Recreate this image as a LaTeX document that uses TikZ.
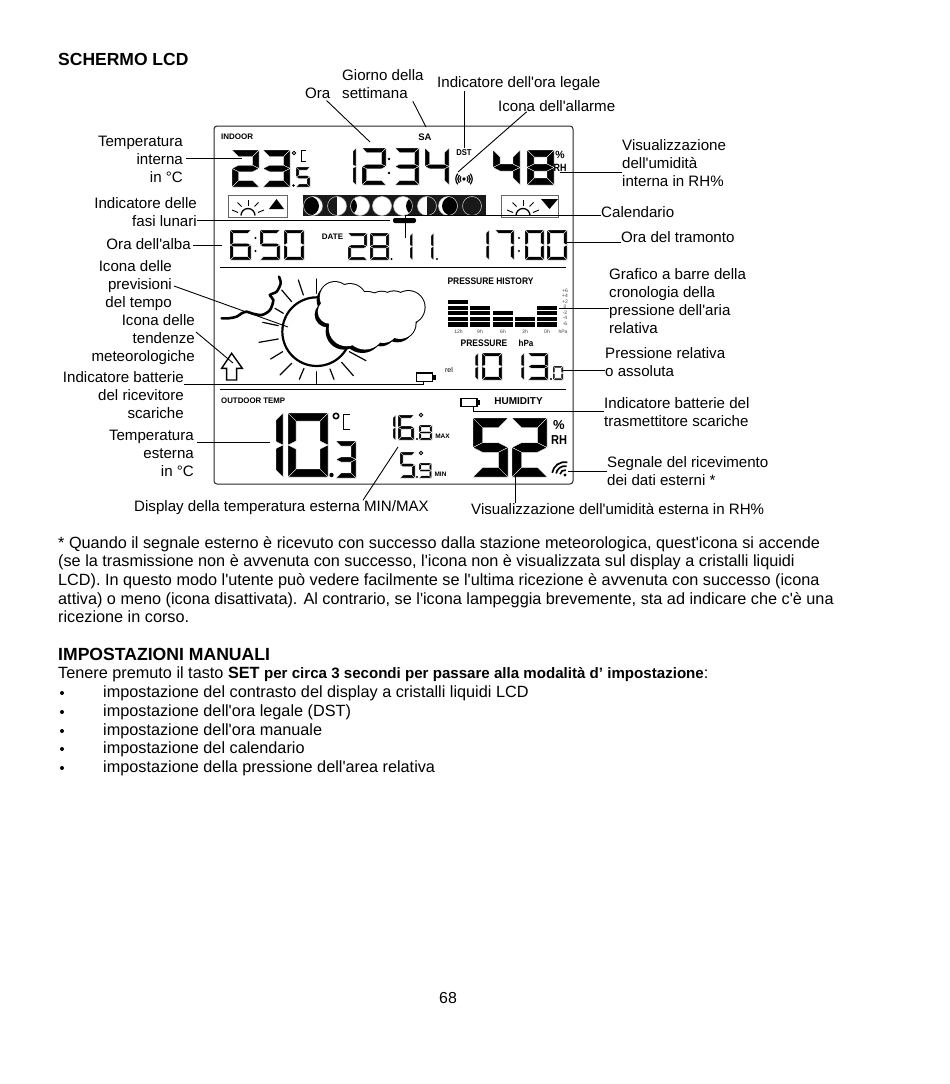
\documentclass[tikz,border=0pt]{standalone}
\usepackage{fontspec}
\setmainfont{Liberation Sans}
\newfontfamily\plainrm{Liberation Sans}
\AtBeginDocument{\plainrm}
\newcommand\segA{\fill[segpart] (\xa,\ya)--(\xd,\ya)--(\xc,\yb)--(\xb,\yb)--cycle;}
\newcommand\segB{\fill[segpart] (\xd,\ya)--(\xd,\ym)--(\xc,\yc)--(\xc,\yb)--cycle;}
\newcommand\segC{\fill[segpart] (\xd,\ym)--(\xd,\yf)--(\xc,\ye)--(\xc,\yd)--cycle;}
\newcommand\segD{\fill[segpart] (\xa,\yf)--(\xb,\ye)--(\xc,\ye)--(\xd,\yf)--cycle;}
\newcommand\segE{\fill[segpart] (\xa,\ym)--(\xb,\yd)--(\xb,\ye)--(\xa,\yf)--cycle;}
\newcommand\segF{\fill[segpart] (\xa,\ya)--(\xb,\yb)--(\xb,\yc)--(\xa,\ym)--cycle;}
\newcommand\segG{\fill[segpart] (\xa,\ym)--(\xb,\yc)--(\xc,\yc)--(\xd,\ym)--(\xc,\yd)--(\xb,\yd)--cycle;}
% digit, x, y, w, h, t
\newcommand\dg[6]{\begingroup
 \pgfmathsetmacro\xa{#2}\pgfmathsetmacro\xb{#2+#6}\pgfmathsetmacro\xc{#2+#4-#6}\pgfmathsetmacro\xd{#2+#4}%
 \pgfmathsetmacro\ya{#3}\pgfmathsetmacro\yb{#3+#6}\pgfmathsetmacro\ym{#3+#5/2}\pgfmathsetmacro\yc{#3+#5/2-#6/2}%
 \pgfmathsetmacro\yd{#3+#5/2+#6/2}\pgfmathsetmacro\ye{#3+#5-#6}\pgfmathsetmacro\yf{#3+#5}%
 \ifcase#1 \segA\segB\segC\segD\segE\segF
 \or \segB\segC
 \or \segA\segB\segG\segE\segD
 \or \segA\segB\segG\segC\segD
 \or \segF\segG\segB\segC
 \or \segA\segF\segG\segC\segD
 \or \segA\segF\segG\segC\segD\segE
 \or \segA\segB\segC
 \or \segA\segB\segC\segD\segE\segF\segG
 \or \segA\segB\segC\segD\segF\segG
 \fi\endgroup}
% lunar phase: x, y, kind
\newcommand\lunar[3]{\begin{scope}[shift={(#1,#2)}]
 \begin{scope}\clip (0,0) circle (9.5);
 \ifcase#3
 \or \fill[white] (0,0) circle (9.5); \fill[black] (-3.5,0) circle (9.5);
 \or \fill[white] (0,-10) rectangle (10,10);
 \or \fill[white] (0,0) circle (9.5); \fill[black] (-12.5,0) circle (9.5);
 \or \fill[white] (0,0) circle (9.5);
 \or \fill[white] (0,0) circle (9.5); \fill[black] (12.5,0) circle (9.5);
 \or \fill[white] (-10,-10) rectangle (0,10);
 \or \fill[white] (0,0) circle (9.5); \fill[black] (3.5,0) circle (9.5);
 \or
 \fi
 \end{scope}
 \draw[white!75!black,line width=.6] (0,0) circle (9.5);
 \end{scope}}
\tikzset{
 segpart/.style={black,draw=white,line width=.35},
 lbl/.style={inner sep=0,yshift=-1pt,font=\fontsize{15.1}{18}\selectfont},
 lblr/.style={lbl,align=right,anchor=east},
 lbll/.style={lbl,align=left,anchor=west},
 body/.style={inner sep=0,anchor=west,align=left,yshift=-1pt,font=\fontsize{16.25}{18.7}\selectfont},
 conn/.style={draw=black,line width=.9},
 lcdb/.style={inner sep=0,font=\fontsize{8}{9}\selectfont\bfseries},
 lcdh/.style={inner sep=0,font=\fontsize{10}{11}\selectfont\bfseries},
 tiny/.style={inner sep=0,text=black!75,font=\fontsize{5}{5}\selectfont},
 ray/.style={line width=1.2,line cap=round},
 sray/.style={line width=.9},
 batt/.style={draw=black,line width=1.4,fill=white},
}
\begin{document}
\begin{tikzpicture}[x=1pt,y=-1pt]
\useasboundingbox (0,0) rectangle (950,1084);
% LCD frame
\draw[line width=1,rounded corners=3,black!85] (214,126) rectangle (573,484);
\draw[line width=1] (220,267.5) -- (566,267.5);
\draw[line width=1] (220,389.5) -- (566,389.5);
% --- first row
\node[lcdb,anchor=west] (indoor) at (221,137) {INDOOR};
\node[lcdh,font=\fontsize{9.5}{10}\selectfont\bfseries] (sa) at (425,137) {SA};
\dg{2}{232}{150}{27}{37}{6.5}
\dg{3}{263}{150}{27}{37}{6.5}
\fill (293.5,185.5) circle (1.3);
\dg{5}{296}{167}{14}{20}{3}
\draw[line width=.9] (294,153) circle (1.8);
\draw[line width=.9] (306,150) -- (301,150) -- (301,161) -- (306,161);
\dg{1}{350}{148}{6}{37}{3}
\dg{2}{362}{148}{24}{37}{4.5}
\fill (389,159) circle (1.4) (389,173) circle (1.4);
\dg{3}{395}{148}{24}{37}{4.5}
\dg{4}{425}{148}{24}{37}{4.5}
\node[lcdb,font=\fontsize{8.5}{9}\selectfont\bfseries] (dst) at (464,153) {\scalebox{.9}[1]{DST}};
\dg{4}{493}{150}{27}{35}{7}
\dg{8}{527}{150}{27}{35}{7}
\node[lcdh,font=\fontsize{10.5}{11}\selectfont\bfseries] (pctin) at (560,155) {\%};
\node[lcdh,font=\fontsize{10.5}{11}\selectfont\bfseries] (rhin) at (560,168) {\scalebox{.85}[1]{RH}};
% alarm icon
\fill (464,179) circle (1.8);
\foreach \r in {4,6.2,8.2}{
 \draw[line width=1.2] (464,179) ++(140:\r) arc (140:220:\r);
 \draw[line width=1.2] (464,179) ++(40:\r) arc (40:-40:\r);}
% sun boxes
\draw[line width=.9,black!60] (228,195) rectangle (287,217);
\draw[line width=.9,black!60] (501,195) rectangle (558,217);
\foreach \c/\tx in {248/0,523/1}{
 \begin{scope}[shift={(\c,215.5)}]
 \draw[line width=1.3] (-7,0) arc (180:360:7);
 \draw[sray] (0,-10) -- (0,-16);
 \draw[sray] (-6.5,-9) -- (-10.5,-13);
 \draw[sray] (6.5,-9) -- (10.5,-13);
 \draw[sray] (-10,-3) -- (-16,-5.5);
 \draw[sray] (10,-3) -- (16,-5.5);
 \end{scope}}
\fill (269,209) -- (284,209) -- (276.5,199) -- cycle;
\fill (541,199) -- (558,199) -- (549.5,209) -- cycle;
% moon strip
\fill[black!90] (303,195) rectangle (486,216);
\lunar{313}{206}{1}\lunar{337}{206}{2}\lunar{360}{206}{3}\lunar{382}{206}{4}
\lunar{403}{206}{5}\lunar{427}{206}{6}\lunar{448}{206}{7}\lunar{472}{206}{8}
\fill[rounded corners=2] (393,218) rectangle (416,223);
% second row
\dg{6}{230}{230}{21}{30}{3.4}
\fill (255.5,238) circle (1.2) (255.5,251) circle (1.2);
\dg{5}{260}{230}{20}{30}{3.4}
\dg{0}{284}{230}{20}{30}{3.4}
\node[lcdb] (date) at (332.5,237) {DATE};
\dg{2}{348}{233}{19}{27}{3}
\dg{8}{370}{233}{19}{27}{3}
\fill (391.5,259) circle (1.1);
\dg{1}{408}{233}{4.5}{27}{2.5}
\dg{1}{429}{233}{4.5}{27}{2.5}
\fill (437,259) circle (1.1);
\dg{1}{484}{230}{5}{30}{2.8}
\dg{7}{495}{230}{19}{30}{3.4}
\fill (519,238) circle (1.2) (519,251) circle (1.2);
\dg{0}{525}{230}{19}{30}{3.4}
\dg{0}{547}{230}{20}{30}{3.4}
% weather icon (local coordinates)
\begin{scope}[shift={(210,265)},x=.3333pt,y=-.3333pt]
 \foreach \a/\b/\c/\d in {265/45/280/90,320/42/320/85,215/75/245/110,195/130/220/145,158/172/205/182,147/232/205/222,182/282/218/260,210/330/245/295,268/343/282/310,320/355/320/320,360/312/372/343,395/292/430/332,418/260/468/287}
  \draw[ray] (\a,\b) -- (\c,\d);
 \draw[line width=2.2,fill=white] (320,200) circle (103);
 \def\cloudlist{375/97/47,420/106/50,470/128/48,515/123/44,552/122/44,595/127/50,570/175/48,520/190/45,465/195/60,410/190/55,360/140/38,470/150/70}
 \begin{scope}[shift={(-8,9)}]
 \foreach \a/\b/\r in \cloudlist \fill (\a,\b) circle ({\r*1pt/3});
 \end{scope}
 \foreach \a/\b/\r in \cloudlist \fill (\a,\b) circle ({\r*1pt/3+.6pt});
 \foreach \a/\b/\r in \cloudlist \fill[white] (\a,\b) circle ({\r*1pt/3-.4pt});
 \draw[line width=2.6,line cap=round] plot[smooth,tension=.5] coordinates {(207,35)(212,55)(200,80)(180,90)(190,105)(180,135)(155,150)(125,145)(110,140)(95,145)(80,155)(55,160)(35,160)};
 \draw[line width=1.4,fill=white] (65,265) -- (97,310) -- (80,310) -- (80,345) -- (50,345) -- (50,310) -- (35,310) -- cycle;
\end{scope}
% pressure panel
\draw[batt] (416.5,373) rectangle (432.5,381.5);
\fill (433,375) rectangle (436,379.5);
\node[inner sep=0,font=\fontsize{7}{8}\selectfont] (rel) at (449,370) {rel};
\node[lcdb,font=\fontsize{9.5}{10}\selectfont\bfseries] (phist) at (490.5,281) {\scalebox{.89}[1]{PRESSURE HISTORY}};
\foreach \x/\top in {448/0,470/1,493/2,515/3,537/1}{
 \foreach \r in {\top,...,4}{
  \pgfmathsetmacro\yy{300+\r*5.55}
  \fill (\x,\yy) rectangle +(20,4.3);}}
\foreach \x/\t in {458.5/12h,480/9h,503/6h,525/3h,547/0h,563/hPa}
 \node[tiny] at (\x,332) {\t};
\foreach \y/\t in {291/+6,296/+4,302/+2,307/0,313/-2,318/-4,324/-6}
 \node[tiny] at (565,\y) {\t};
\node[lcdb,font=\fontsize{9.5}{10}\selectfont\bfseries] (press) at (484,343) {\scalebox{.89}[1]{PRESSURE}};
\node[lcdb,font=\fontsize{9}{10}\selectfont\bfseries] (hpa) at (526,343) {\scalebox{.9}[1]{hPa}};
\dg{1}{473}{353}{5}{27}{2.8}
\dg{0}{482}{353}{20}{27}{3.4}
\dg{1}{519}{353}{5}{27}{2.8}
\dg{3}{528}{353}{20}{27}{3.4}
\fill (551,379) circle (1.1);
\dg{0}{553}{366}{10}{14}{1.8}
% outdoor
\node[lcdb,anchor=west] (odt) at (221,401) {\scalebox{.98}[1]{OUTDOOR TEMP}};
\node[lcdb,font=\fontsize{10}{10}\selectfont\bfseries] (hum) at (518.5,401) {HUMIDITY};
\draw[batt] (461,398.5) rectangle (477,406.5);
\fill (477.5,400) rectangle (480,405);
\dg{1}{273}{413}{10}{64}{7}
\dg{0}{288}{413}{40}{64}{8}
\fill (331.5,475) circle (2.2);
\dg{3}{336}{441}{20}{37}{5}
\draw[line width=1.5] (336,416) circle (2.7);
\draw[line width=.9] (350,414) -- (343,414) -- (343,429) -- (350,429);
\dg{1}{391}{415}{4.5}{25}{2.5}
\dg{6}{398}{415}{16}{25}{3}
\fill (417,439) circle (1.1);
\dg{8}{419}{425}{13}{15}{2.2}
\draw[line width=.8] (421,415) circle (1.8);
\node[lcdb,font=\fontsize{6.5}{7}\selectfont\bfseries] (mx) at (442.5,436) {MAX};
\dg{5}{400}{452}{15}{26}{3}
\fill (417,477) circle (1.1);
\dg{9}{419}{463}{12.5}{15}{2.2}
\draw[line width=.8] (421,453) circle (1.8);
\node[lcdb,font=\fontsize{6.5}{7}\selectfont\bfseries] (mn) at (440.5,474) {MIN};
\dg{5}{473}{418}{35}{59}{9.5}
\dg{2}{512}{418}{35}{59}{9.5}
\node[lcdh,font=\fontsize{13}{14}\selectfont\bfseries] (pctout) at (559,425) {\%};
\node[lcdh,font=\fontsize{13}{14}\selectfont\bfseries] (rhout) at (559,440) {\scalebox{.85}[1]{RH}};
\fill (565,475) circle (1.6);
\foreach \r in {5,9,13}
 \draw[line width=1.7] (565,475) ++(190:\r) arc (190:280:\r);
% labels
\node[lbll,font=\fontsize{17.5}{18}\selectfont\bfseries] (titlea) at (58,58) {SCHERMO LCD};
\node[lbll] (ora) at (305,92) {Ora};
\node[lbll] (giorno) at (342,83.5) {Giorno della\\settimana};
\node[lbll] (legale) at (437,83) {Indicatore dell'ora legale};
\node[lbll] (allarme) at (498,105) {Icona dell'allarme};
\node[lblr] (tint) at (183,158) {Temperatura\\interna\\in °C};
\node[lblr] (fasi) at (197,211.5) {Indicatore delle\\fasi lunari};
\node[lblr] (alba) at (191,243) {Ora dell'alba};
\node[lblr] (prev) at (172,285) {Icona delle\\previsioni\\del tempo};
\node[lblr] (tend) at (195,339) {Icona delle\\tendenze\\meteorologiche};
\node[lblr] (brx) at (184,394) {Indicatore batterie\\del ricevitore\\scariche};
\node[lblr] (test) at (194,452) {Temperatura\\esterna\\in °C};
\node[lbll] (minmax) at (134,506.5) {Display della temperatura esterna MIN/MAX};
\node[lbll] (umest) at (471,508) {Visualizzazione dell'umidità esterna in RH\%};
\node[lbll] (umint) at (622,162.5) {Visualizzazione\\dell'umidità\\interna in RH\%};
\node[lbll] (cal) at (601,211) {Calendario};
\node[lbll] (tram) at (621,236) {Ora del tramonto};
\node[lbll] (graf) at (609,300) {Grafico a barre della\\cronologia della\\pressione dell'aria\\relativa};
\node[lbll] (pres) at (605,361) {Pressione relativa\\o assoluta};
\node[lbll] (btx) at (604,411) {Indicatore batterie del\\trasmettitore scariche};
\node[lbll] (seg) at (607,470) {Segnale del ricevimento\\dei dati esterni *};
% connector free ends
\coordinate (eOra) at (370,142);
\coordinate (eSa) at (426,127);
\coordinate (eDst) at (464,148);
\coordinate (eAl) at (458,172);
\coordinate (eTi) at (242,158);
\coordinate (eUm) at (560,172.7);
\coordinate (eFa) at (390,220);
\coordinate (eCa) at (405,215);
\coordinate (eCb) at (405,238);
\coordinate (eAb) at (222,245);
\coordinate (eTr) at (567,242);
\coordinate (ePr) at (288,327);
\coordinate (eTe) at (233,363);
\coordinate (eBr) at (423,384);
\coordinate (eBra) at (423,381);
\coordinate (eGr) at (559,308);
\coordinate (ePs) at (562,370);
\coordinate (eBt) at (473,411);
\coordinate (eBta) at (473,406);
\coordinate (eSg) at (568,471);
\coordinate (eUe) at (515,474);
\coordinate (eMm) at (398,447);
\coordinate (eTs) at (270,442);
% connectors
\draw[conn] (ora.south east) ++(-4,2) -- (eOra);
\draw[conn] (giorno.south east) ++(-11,2) -- (eSa);
\draw[conn] (legale.south -| eDst) -- (eDst);
\draw[conn] (allarme.south) ++(-30,0) -- (eAl);
\draw[conn] (tint.east) ++(3,-1) -- (eTi);
\draw[conn] (eUm) -- (umint.west |- eUm);
\draw[conn] (fasi.east |- eFa) -- (eFa);
\draw[conn] (eCb) -- (eCa) -- (cal.west |- eCa);
\draw[conn] (alba.east |- eAb) ++(2,0) -- (eAb);
\draw[conn] (eTr) -- (tram.west |- eTr);
\draw[conn] (prev.east) ++(2,0) -- (ePr);
\draw[conn] (tend.east) ++(1,-8) -- (eTe);
\draw[conn] (brx.east |- eBr) -- (eBr) -- (eBra);
\draw[conn] (eGr) -- (graf.west |- eGr);
\draw[conn] (ePs) -- (pres.west |- ePs);
\draw[conn] (eBta) -- (eBt) -- (btx.west |- eBt);
\draw[conn] (eSg) -- (seg.west |- eSg);
\draw[conn] (umest.north -| eUe) -- (eUe);
\draw[conn] (minmax.north east) ++(-66,0) -- (eMm);
\draw[conn] (test.east |- eTs) ++(3,0) -- (eTs);
% body text
\node[body] (para) at (58,578.5) {* Quando il segnale esterno è ricevuto con successo dalla stazione meteorologica, quest'icona si accende\\
(se la trasmissione non è avvenuta con successo, l'icona non è visualizzata sul display a cristalli liquidi\\
LCD). In questo modo l'utente può vedere facilmente se l'ultima ricezione è avvenuta con successo (icona\\
attiva) o meno (icona disattivata). Al contrario, se l'icona lampeggia brevemente, sta ad indicare che c'è una\\
ricezione in corso.};
\node[body,font=\fontsize{17.6}{18}\selectfont\bfseries] (imp) at (58,653.5) {IMPOSTAZIONI MANUALI};
\node[body] (ten) at (58,673) {Tenere premuto il tasto \textbf{SET} {\bfseries\fontsize{15.1}{18}\selectfont per circa 3 secondi per passare alla modalità d’ impostazione}:};
\foreach \n/\y/\t in {a/692/impostazione del contrasto del display a cristalli liquidi LCD,b/711/impostazione dell'ora legale (DST),c/730/impostazione dell'ora manuale,d/748/impostazione del calendario,e/767/impostazione della pressione dell'area relativa}{
 \fill (62,\y+1) circle (2);
 \node[body] (item\n) at (103,\y) {\t};}
\node[inner sep=0,font=\fontsize{15.9}{18}\selectfont] (pg) at (448,998) {68};
\end{tikzpicture}
\end{document}
